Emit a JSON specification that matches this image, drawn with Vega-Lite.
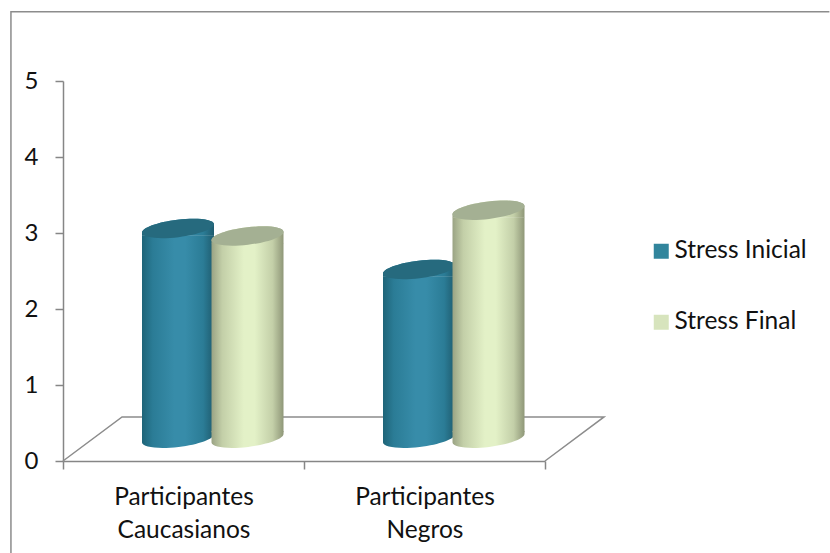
{"$schema":"https://vega.github.io/schema/vega-lite/v6.json","width":482,"height":380,"autosize":{"type":"none"},"padding":{"left":63,"top":81,"right":285,"bottom":92},"background":"white","config":{"view":{"stroke":null}},"resolve":{"scale":{"x":"independent"}},"datasets":{"bars":[{"grupo":"Participantes Caucasianos","serie":"Stress Inicial","valor":3.06},{"grupo":"Participantes Caucasianos","serie":"Stress Final","valor":2.96},{"grupo":"Participantes Negros","serie":"Stress Inicial","valor":2.52},{"grupo":"Participantes Negros","serie":"Stress Final","valor":3.3}],"lines":[{"parte":"frame","ordem":1,"fx":-0.216,"fy":-1.21},{"parte":"frame","ordem":2,"fx":-0.216,"fy":5.91},{"parte":"frame","ordem":3,"fx":3.18,"fy":5.91},{"parte":"floor","ordem":1,"fx":0,"fy":0},{"parte":"floor","ordem":2,"fx":0.245,"fy":0.58},{"parte":"floor","ordem":3,"fx":2.245,"fy":0.58},{"parte":"floor","ordem":4,"fx":2,"fy":0}]},"layer":[{"data":{"name":"lines"},"mark":{"type":"line","color":"#8c8c8c","strokeWidth":1.5},"encoding":{"x":{"field":"fx","type":"quantitative","scale":{"domain":[0,2],"nice":false,"zero":false},"axis":null},"y":{"field":"fy","type":"quantitative","scale":{"domain":[0,5],"nice":false},"axis":{"title":null,"values":[0,1,2,3,4,5],"format":"d","grid":false,"domainColor":"#868686","domainWidth":1.5,"tickColor":"#868686","tickWidth":1.5,"tickSize":8,"labelFont":"Lato","labelFontSize":24,"labelColor":"#111111","labelPadding":17}},"detail":{"field":"parte"},"order":{"field":"ordem"}}},{"data":{"name":"bars"},"encoding":{"x":{"field":"grupo","type":"nominal","sort":null,"scale":{"type":"band","padding":0},"axis":{"title":null,"labelAngle":0,"tickBand":"extent","domainColor":"#868686","domainWidth":1.5,"tickColor":"#868686","tickWidth":1.5,"tickSize":8,"labelFont":"Lato","labelFontSize":24.5,"labelColor":"#111111","labelPadding":16,"labelLineHeight":33,"labelExpr":"split(datum.label,' ')","grid":false}}},"layer":[{"mark":{"type":"point","shape":"square","filled":true,"opacity":0,"size":1},"encoding":{"y":{"field":"valor","type":"quantitative"},"color":{"field":"serie","type":"nominal","scale":{"domain":["Stress Inicial","Stress Final"],"range":["#31859c","#d7e4bd"]},"legend":{"orient":"none","legendX":586,"legendY":158,"title":null,"symbolType":"square","symbolSize":225,"symbolOpacity":1,"symbolStrokeWidth":0,"labelFont":"Lato","labelFontSize":24.5,"labelColor":"#111111","labelOffset":1,"rowPadding":46,"labelLimit":200}}}},{"transform":[{"filter":"datum.serie==='Stress Inicial'"}],"mark":{"type":"bar","width":72,"xOffset":-5.5,"yOffset":7,"y2Offset":-6,"fill":{"x1":0,"x2":1,"y1":0,"y2":0,"gradient":"linear","stops":[{"offset":0,"color":"#1e6478"},{"offset":0.15,"color":"#2b7c96"},{"offset":0.45,"color":"#378ca9"},{"offset":0.6,"color":"#378ca9"},{"offset":0.85,"color":"#2b7c96"},{"offset":1,"color":"#1f5c6f"}]}},"encoding":{"y":{"field":"valor","type":"quantitative"},"y2":{"datum":0.3}}},{"transform":[{"filter":"datum.serie==='Stress Inicial'"}],"mark":{"type":"point","filled":true,"opacity":1,"size":5184,"strokeWidth":0,"xOffset":-5.5,"shape":"M-1,0.12A1,0.24,-7,0,1,1,-0.12L1,0.2L-1,0.2Z","fill":{"x1":0,"x2":1,"y1":0,"y2":0,"gradient":"linear","stops":[{"offset":0,"color":"#1e6478"},{"offset":0.15,"color":"#2b7c96"},{"offset":0.45,"color":"#378ca9"},{"offset":0.6,"color":"#378ca9"},{"offset":0.85,"color":"#2b7c96"},{"offset":1,"color":"#1f5c6f"}]}},"encoding":{"y":{"field":"valor","type":"quantitative"}}},{"transform":[{"filter":"datum.serie==='Stress Inicial'"}],"mark":{"type":"point","filled":true,"opacity":1,"size":5184,"strokeWidth":0,"xOffset":-5.5,"shape":"M-1,-0.2L1,-0.2L1,-0.12A1,0.24,-7,0,1,-1,0.12Z","fill":{"x1":0,"x2":1,"y1":0,"y2":0,"gradient":"linear","stops":[{"offset":0,"color":"#1e6478"},{"offset":0.15,"color":"#2b7c96"},{"offset":0.45,"color":"#378ca9"},{"offset":0.6,"color":"#378ca9"},{"offset":0.85,"color":"#2b7c96"},{"offset":1,"color":"#1f5c6f"}]}},"encoding":{"y":{"datum":0.3}}},{"transform":[{"filter":"datum.serie==='Stress Inicial'"}],"mark":{"type":"point","filled":true,"opacity":1,"size":5184,"strokeWidth":0,"xOffset":-5.5,"color":"#266a7e","shape":"M-1,0.12A1,0.24,-7,1,1,1,-0.12A1,0.24,-7,1,1,-1,0.12Z"},"encoding":{"y":{"field":"valor","type":"quantitative"}}},{"transform":[{"filter":"datum.serie==='Stress Final'"}],"mark":{"type":"bar","width":72,"xOffset":64,"yOffset":7,"y2Offset":-6,"fill":{"x1":0,"x2":1,"y1":0,"y2":0,"gradient":"linear","stops":[{"offset":0,"color":"#9aa384"},{"offset":0.15,"color":"#c3cfa8"},{"offset":0.45,"color":"#e3f1c7"},{"offset":0.6,"color":"#e3f1c7"},{"offset":0.85,"color":"#c3cfa8"},{"offset":1,"color":"#8f9778"}]}},"encoding":{"y":{"field":"valor","type":"quantitative"},"y2":{"datum":0.3}}},{"transform":[{"filter":"datum.serie==='Stress Final'"}],"mark":{"type":"point","filled":true,"opacity":1,"size":5184,"strokeWidth":0,"xOffset":64,"shape":"M-1,0.12A1,0.24,-7,0,1,1,-0.12L1,0.2L-1,0.2Z","fill":{"x1":0,"x2":1,"y1":0,"y2":0,"gradient":"linear","stops":[{"offset":0,"color":"#9aa384"},{"offset":0.15,"color":"#c3cfa8"},{"offset":0.45,"color":"#e3f1c7"},{"offset":0.6,"color":"#e3f1c7"},{"offset":0.85,"color":"#c3cfa8"},{"offset":1,"color":"#8f9778"}]}},"encoding":{"y":{"field":"valor","type":"quantitative"}}},{"transform":[{"filter":"datum.serie==='Stress Final'"}],"mark":{"type":"point","filled":true,"opacity":1,"size":5184,"strokeWidth":0,"xOffset":64,"shape":"M-1,-0.2L1,-0.2L1,-0.12A1,0.24,-7,0,1,-1,0.12Z","fill":{"x1":0,"x2":1,"y1":0,"y2":0,"gradient":"linear","stops":[{"offset":0,"color":"#9aa384"},{"offset":0.15,"color":"#c3cfa8"},{"offset":0.45,"color":"#e3f1c7"},{"offset":0.6,"color":"#e3f1c7"},{"offset":0.85,"color":"#c3cfa8"},{"offset":1,"color":"#8f9778"}]}},"encoding":{"y":{"datum":0.3}}},{"transform":[{"filter":"datum.serie==='Stress Final'"}],"mark":{"type":"point","filled":true,"opacity":1,"size":5184,"strokeWidth":0,"xOffset":64,"color":"#a4b093","shape":"M-1,0.12A1,0.24,-7,1,1,1,-0.12A1,0.24,-7,1,1,-1,0.12Z"},"encoding":{"y":{"field":"valor","type":"quantitative"}}}]}]}
